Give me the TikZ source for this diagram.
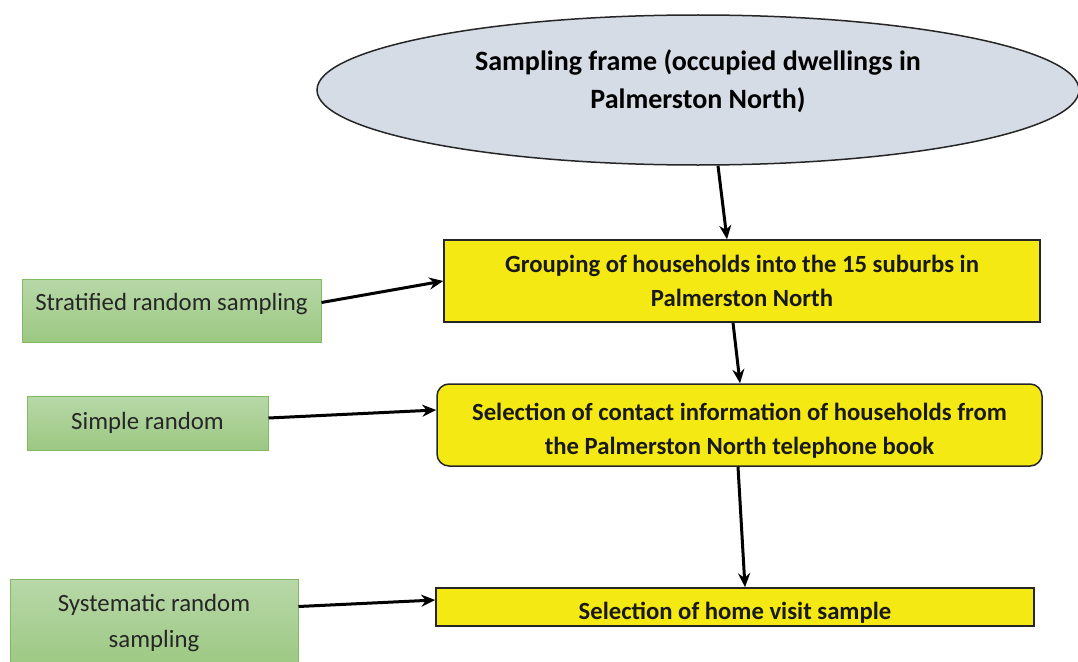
\documentclass[tikz,border=0pt]{standalone}
\usepackage{fontspec}
\setmainfont{Carlito}
\usetikzlibrary{shapes.geometric,arrows.meta,calc}

\definecolor{boxyellow}{RGB}{245,233,20}
\definecolor{framefill}{RGB}{214,220,229}
\definecolor{methodtop}{RGB}{184,216,168}
\definecolor{methodbottom}{RGB}{156,200,130}
\definecolor{methodedge}{RGB}{128,186,98}

\tikzset{
  framebox/.style={ellipse, draw=black!85, fill=framefill, line width=1.5pt,
    minimum width=762pt, minimum height=150pt, align=center, inner sep=0pt,
    font=\fontsize{28}{38}\selectfont\bfseries, text height=40pt, text depth=4pt},
  stagebox/.style={rectangle, draw=black!85, fill=boxyellow, line width=1.5pt,
    align=center, inner sep=0pt, text=black!90,
    font=\fontsize{24.7}{34}\selectfont\bfseries},
  methodbox/.style={rectangle, draw=methodedge, line width=1pt,
    top color=methodtop, bottom color=methodbottom, align=center, inner sep=0pt,
    text=black!85, font=\fontsize{24.8}{36}\selectfont},
  link/.style={-{Stealth[length=14pt,width=12pt]}, line width=3pt}
}

\begin{document}
\begin{tikzpicture}[x=1pt,y=-1pt]
            \useasboundingbox (0,0) rectangle (1078,661);
            % main steps
            \node[framebox] (frame) at (698,90) {Sampling frame (occupied dwellings in\\Palmerston North)};
            \node[stagebox, minimum width=596pt, minimum height=82pt, text height=54pt, text depth=3pt] (group) at (742,281) {Grouping of households into the 15 suburbs in\\Palmerston North};
            \node[stagebox, rounded corners=12pt, minimum width=605pt, minimum height=82pt, text height=62pt, text depth=3pt] (contact) at (739.5,425) {Selection of contact information of households from\\the Palmerston North telephone book};
            \node[stagebox, minimum width=598pt, minimum height=38pt, text height=28pt, text depth=3pt] (visit) at (735,607) {Selection of home visit sample};
            % sampling methods
            \node[methodbox, minimum width=299pt, minimum height=63pt, text height=16pt, text depth=16pt] (strat) at (171.5,310.5) {Stratified random sampling};
            \node[methodbox, minimum width=241pt, minimum height=54pt] (simple) at (147.5,423) {Simple random};
            \node[methodbox, minimum width=288pt, minimum height=89pt] (system) at (154,623.5) {Systematic random\\sampling};
            \draw ($(frame.south)+(20,0)$) edge [link] ($(group.north)+(-15,0)$);
            \draw ($(group.south)+(-9,0)$) edge [link] ($(contact.north)+(0.5,0)$);
            \draw ($(contact.south)+(-1.5,0)$) edge [link] ($(visit.north)+(10,0)$);
            \draw ($(strat.east)+(0,-8)$) edge [link] (group.west);
            \draw ($(simple.east)+(0,-5)$) edge [link] ($(contact.west)+(0,-15)$);
            \draw ($(system.east)+(0,-17)$) edge [link] ($(visit.west)+(0,-7)$);
\end{tikzpicture}
\end{document}
